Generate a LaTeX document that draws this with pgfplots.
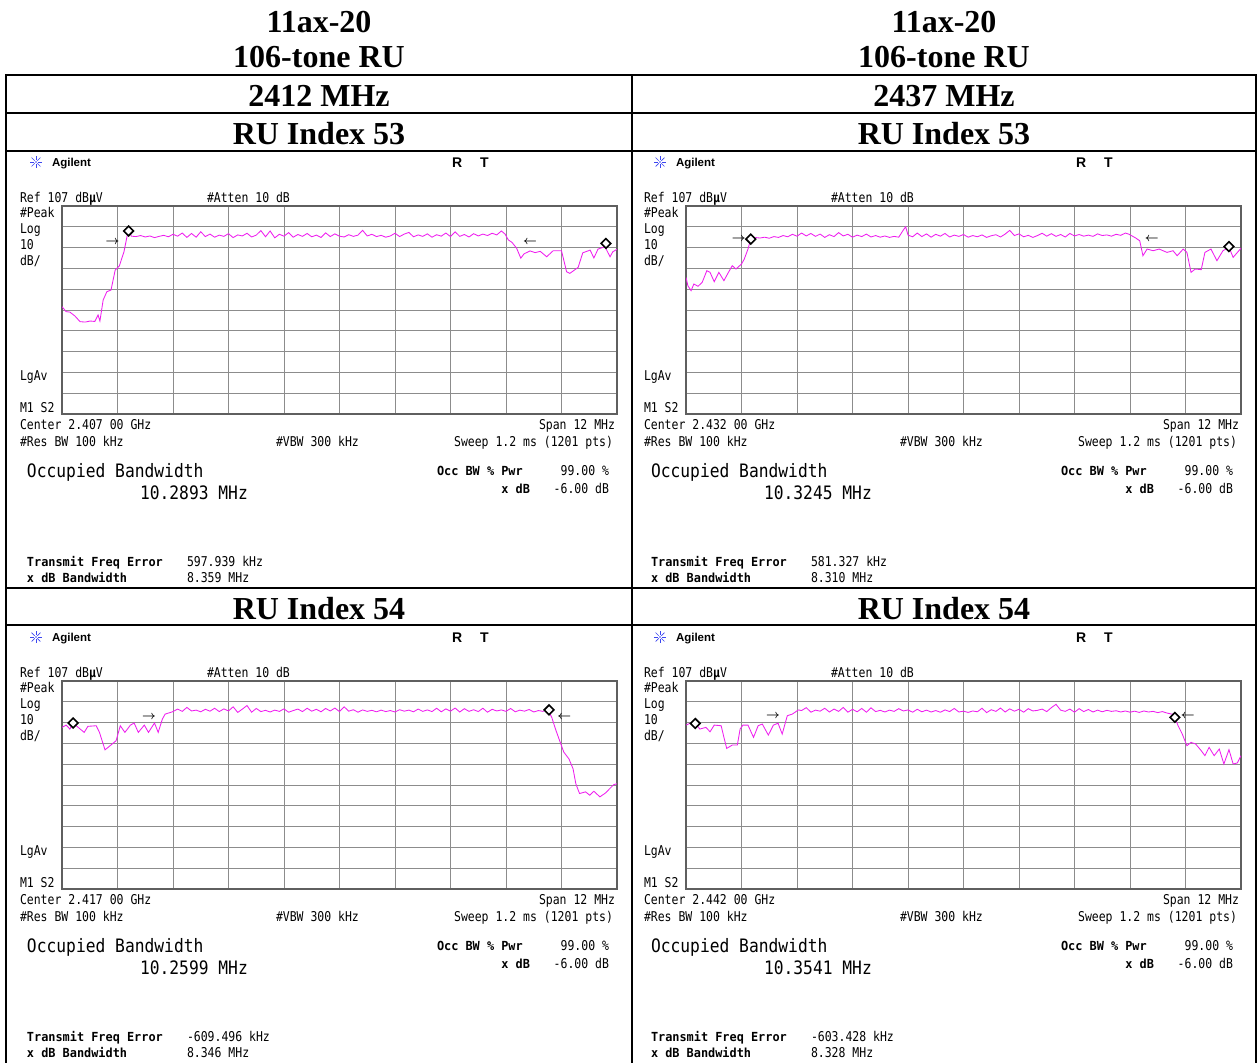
\documentclass[border=0pt]{standalone}
\usepackage{pgfplots}
\pgfplotsset{compat=1.18}
\usepackage{fontspec}
\setmainfont{Liberation Serif}
\newfontfamily\agS[FakeStretch=0.85]{DejaVu Sans Mono}
\newfontfamily\agL[FakeStretch=0.88]{DejaVu Sans Mono}
\newfontfamily\agB[FakeStretch=0.95]{DejaVu Sans Mono}
\newfontfamily\arial{Liberation Sans}
\definecolor{mag}{RGB}{238,30,238}
\definecolor{agblue}{RGB}{60,70,240}
\definecolor{gridc}{RGB}{140,140,140}
\definecolor{framec}{RGB}{95,95,95}
\newcommand{\fS}{\agS\fontsize{13.5}{14}\selectfont}
\newcommand{\fL}{\agL\fontsize{18.5}{20}\selectfont}
\newcommand{\fB}{\agB\bfseries\fontsize{12.5}{14}\selectfont}
\newcommand{\fT}{\bfseries\fontsize{32}{34}\selectfont}
\newcommand{\tl}[3]{\node[anchor=base west,inner sep=0pt,outer sep=0pt] at (#1,#2) {#3};}
\newcommand{\tr}[3]{\node[anchor=base east,inner sep=0pt,outer sep=0pt] at (#1,#2) {#3};}
\newcommand{\tc}[3]{\node[anchor=base,inner sep=0pt,outer sep=0pt] at (#1,#2) {#3};}
% #1 xoff, #2 yoff, #3 center, #4 occupied BW, #5 freq error, #6 x dB BW
\newcommand{\screen}[6]{%
\begin{scope}[shift={(#1,#2)}]
\foreach \a in {0,45,...,315}{\draw[agblue,line width=0.7pt] (36,162) ++(\a:1.8) -- ++(\a:4.4);}
\fill[agblue] (36,162) circle (0.9);
\tl{52}{166}{\arial\bfseries\fontsize{11.5}{12}\selectfont Agilent}
\tl{452}{167}{\arial\bfseries\fontsize{14}{14}\selectfont R}
\tl{480}{167}{\arial\bfseries\fontsize{14}{14}\selectfont T}
\tl{20}{202}{\fS Ref 107 dB\textbf{µ}V}
\tl{207}{202}{\fS \#Atten 10 dB}
\tl{20}{217}{\fS \#Peak}
\tl{20}{233}{\fS Log}
\tl{20}{249}{\fS 10}
\tl{20}{265}{\fS dB/}
\tl{20}{380}{\fS LgAv}
\tl{20}{412}{\fS M1 S2}
\tl{20}{429}{\fS Center #3 00 GHz}
\tr{615}{429}{\fS Span 12 MHz}
\tl{20}{446}{\fS \#Res BW 100 kHz}
\tl{276}{446}{\fS \#VBW 300 kHz}
\tr{613}{446}{\fS Sweep 1.2 ms (1201 pts)}
\tl{27}{477}{\fL Occupied Bandwidth}
\tl{140}{499}{\fL #4 MHz}
\tl{437}{475}{\fB Occ BW \% Pwr}
\tr{530}{493}{\fB x dB}
\tr{609}{475}{\fS 99.00 \%}
\tr{609}{493}{\fS -6.00 dB}
\tl{27}{566}{\fB Transmit Freq Error}
\tl{27}{582}{\fB x dB Bandwidth}
\tl{187}{566}{\fS #5 kHz}
\tl{187}{582}{\fS #6 MHz}
\end{scope}}
\tikzset{ar/.style={font=\fontsize{12}{12}\selectfont\boldmath, inner sep=0pt}}
\newcommand{\ra}{$\rightarrow$}
\newcommand{\la}{$\leftarrow$}
\pgfplotsset{scr/.style={scale only axis, width=555pt, height=208pt,
  xmin=-6, xmax=6, ymin=7, ymax=107,
  axis line style={draw=framec, line width=1.6pt},
  xtick={-4.8,-3.6,-2.4,-1.2,0,1.2,2.4,3.6,4.8},
  ytick={17,27,37,47,57,67,77,87,97},
  xticklabels={}, yticklabels={}, major tick length=0pt,
  grid=major, grid style={draw=gridc, line width=0.9pt},
  anchor=north west, clip=true},
  trc/.style={draw=mag, line width=0.85pt, no markers},
  mk/.style={only marks, mark=square*, mark size=3.4pt,
    mark options={rotate=45, fill=white, draw=black, line width=1.6pt}}}
\begin{document}
\begin{tikzpicture}
\begin{scope}[x=1pt,y=-1pt]
\path[use as bounding box] (0,0) rectangle (1259,1063);
% titles
\tc{319}{32}{\fT 11ax-20}
\tc{319}{67}{\fT 106-tone RU}
\tc{944}{32}{\fT 11ax-20}
\tc{944}{67}{\fT 106-tone RU}
\tc{319}{106}{\fT 2412 MHz}
\tc{944}{106}{\fT 2437 MHz}
\tc{319}{144}{\fT RU Index 53}
\tc{944}{144}{\fT RU Index 53}
\tc{319}{619}{\fT RU Index 54}
\tc{944}{619}{\fT RU Index 54}
% table lines
\draw[line width=2pt] (6,75) -- (1256,75);
\draw[line width=2pt] (6,113) -- (1256,113);
\draw[line width=2pt] (6,151) -- (1256,151);
\draw[line width=2pt] (6,588) -- (1256,588);
\draw[line width=2pt] (6,625) -- (1256,625);
\draw[line width=2pt] (6,74) -- (6,1063);
\draw[line width=2pt] (632,74) -- (632,1063);
\draw[line width=2pt] (1256,74) -- (1256,1063);
% screens
\screen{0}{0}{2.407}{10.2893}{597.939}{8.359}
\screen{624}{0}{2.432}{10.3245}{581.327}{8.310}
\screen{0}{475}{2.417}{10.2599}{-609.496}{8.346}
\screen{624}{475}{2.442}{10.3541}{-603.428}{8.328}
\end{scope}

% panel 1: 2412 MHz, RU 53
\begin{axis}[scr, at={(62pt,-206pt)}]
\addplot[trc] coordinates {(-6.00,58.6)(-5.91,56.2)(-5.83,56.0)(-5.72,54.1)(-5.61,51.4)(-5.50,51.2)(-5.39,51.7)(-5.29,51.5)(-5.22,54.6)(-5.18,51.7)(-5.11,61.8)(-5.03,65.8)(-4.94,66.6)(-4.85,76.2)(-4.76,78.2)(-4.66,85.0)(-4.58,93.9)(-4.53,94.2)(-4.5,92.5)
(-4.4,92.3)(-4.3,92.8)(-4.2,92.1)(-4.1,92.6)(-4.0,91.8)(-3.9,92.4)(-3.8,92.9)(-3.7,92.2)(-3.6,93.4)(-3.5,92.5)(-3.4,94.0)(-3.3,91.9)(-3.2,93.8)(-3.1,92.0)(-3.0,94.6)(-2.9,92.3)(-2.8,93.5)(-2.7,92.0)(-2.6,93.0)(-2.5,92.4)(-2.4,93.7)(-2.3,91.8)(-2.2,93.1)(-2.1,92.6)(-2.0,93.9)(-1.9,92.1)(-1.8,93.0)(-1.7,95.2)(-1.6,92.2)(-1.5,95.0)(-1.4,91.7)(-1.3,93.4)(-1.2,92.5)(-1.1,94.2)(-1.0,92.0)(-0.9,93.3)(-0.8,92.4)(-0.7,93.8)(-0.6,92.2)(-0.5,93.0)(-0.4,91.9)(-0.3,94.1)(-0.2,92.3)(-0.1,93.6)(0.0,92.5)(0.1,92.1)(0.2,93.2)(0.3,92.4)(0.4,93.0)(0.5,95.3)(0.6,92.6)(0.7,93.4)(0.8,92.3)(0.9,92.9)(1.0,92.0)(1.1,92.6)(1.2,93.9)(1.3,92.3)(1.4,93.5)(1.5,94.3)(1.6,92.2)(1.7,93.1)(1.8,92.4)(1.9,93.6)(2.0,92.0)(2.1,93.2)(2.2,92.5)(2.3,94.0)(2.4,92.3)(2.5,94.6)(2.6,92.4)(2.7,93.3)(2.8,92.1)(2.9,93.7)(3.0,92.6)(3.1,93.5)(3.2,92.8)(3.3,93.9)(3.4,93.1)(3.5,95.0)
(3.58,93.5)(3.65,90.7)(3.73,89.5)(3.83,86.7)(3.92,81.9)(3.99,84.0)(4.12,85.4)(4.23,84.6)(4.34,85.2)(4.48,82.6)(4.62,85.5)(4.80,85.5)(4.91,75.4)(4.98,74.6)(5.16,77.5)(5.26,84.5)(5.42,85.8)(5.50,82.0)(5.59,86.3)(5.74,87.4)(5.85,82.6)(5.91,85.0)(6.00,86.2)};
\addplot[mk] coordinates {(-4.56,95.0) (5.76,89.0)};
\node[ar] at (axis cs:-4.91,89.8) {\ra};
\node[ar] at (axis cs:4.12,89.8) {\la};
\end{axis}

% panel 2: 2437 MHz, RU 53
\begin{axis}[scr, at={(686pt,-206pt)}]
\addplot[trc] coordinates {(-6.00,72.7)(-5.96,68.7)(-5.89,66.3)(-5.83,69.5)(-5.74,68.4)(-5.65,70.3)(-5.55,75.9)(-5.48,75.1)(-5.39,70.6)(-5.29,75.1)(-5.18,71.1)(-5.09,74.8)(-5.00,78.3)(-4.92,76.7)(-4.80,79.1)(-4.74,81.5)(-4.66,86.3)(-4.60,91.1)(-4.48,91.8)
(-4.4,91.6)(-4.3,92.0)(-4.2,91.5)(-4.1,92.3)(-4.0,91.9)(-3.9,92.8)(-3.8,92.2)(-3.7,93.4)(-3.6,92.5)(-3.5,94.0)(-3.4,92.6)(-3.3,93.8)(-3.2,92.4)(-3.1,93.5)(-3.0,91.9)(-2.9,93.2)(-2.8,92.3)(-2.7,94.2)(-2.6,92.6)(-2.5,93.4)(-2.4,92.0)(-2.3,93.0)(-2.2,92.3)(-2.1,93.5)(-2.0,92.1)(-1.9,92.8)(-1.8,92.0)(-1.7,92.6)(-1.6,91.9)(-1.5,92.4)(-1.4,92.0)(-1.3,95.5)(-1.25,97.0)(-1.2,93.0)(-1.1,92.2)(-1.0,94.0)(-0.9,92.3)(-0.8,93.6)(-0.7,92.0)(-0.6,93.4)(-0.5,92.5)(-0.4,93.8)(-0.3,92.1)(-0.2,93.0)(-0.1,92.4)(0.0,93.3)(0.1,92.0)(0.2,92.8)(0.3,92.2)(0.4,93.1)(0.5,91.9)(0.6,92.7)(0.7,93.2)(0.8,92.1)(0.9,93.5)(1.0,95.3)(1.1,92.8)(1.2,93.6)(1.3,92.2)(1.4,92.9)(1.5,91.9)(1.6,92.8)(1.7,93.9)(1.8,92.5)(1.9,93.7)(2.0,92.4)(2.1,93.3)(2.2,92.1)(2.3,93.8)(2.4,92.6)(2.5,93.3)(2.6,92.5)(2.7,93.0)(2.8,92.4)(2.9,93.6)(3.0,92.8)(3.1,93.1)(3.2,92.5)(3.3,93.4)(3.4,92.9)(3.5,94.0)
(3.58,93.4)(3.71,91.8)(3.81,90.3)(3.88,83.1)(3.97,86.3)(4.10,85.5)(4.23,86.3)(4.40,84.7)(4.53,85.5)(4.62,83.1)(4.75,86.3)(4.83,84.7)(4.92,75.1)(5.01,76.7)(5.14,76.4)(5.22,84.7)(5.35,86.3)(5.48,80.7)(5.61,85.5)(5.74,87.1)(5.83,82.3)(6.00,86.7)};
\addplot[mk] coordinates {(-4.60,91.1) (5.74,87.5)};
\node[ar] at (axis cs:-4.86,91.1) {\ra};
\node[ar] at (axis cs:4.07,91.1) {\la};
\end{axis}

% panel 3: 2412 MHz, RU 54
\begin{axis}[scr, at={(62pt,-681pt)}]
\addplot[trc] coordinates {(-6.00,84.7)(-5.91,85.8)(-5.83,83.9)(-5.76,86.8)(-5.65,84.7)(-5.52,82.3)(-5.44,85.2)(-5.26,85.5)(-5.19,82.3)(-5.07,73.9)(-4.96,75.9)(-4.83,78.3)(-4.74,85.5)(-4.64,82.3)(-4.52,85.8)(-4.44,86.8)(-4.35,82.3)(-4.22,85.8)(-4.13,82.3)(-4.00,86.8)(-3.92,82.3)(-3.83,88.7)(-3.77,91.1)(-3.61,92.2)
(-3.5,93.5)(-3.4,92.4)(-3.3,94.3)(-3.2,92.6)(-3.1,93.0)(-3.0,92.2)(-2.9,93.4)(-2.8,92.5)(-2.7,93.9)(-2.6,92.3)(-2.5,93.6)(-2.4,92.6)(-2.3,94.6)(-2.2,91.9)(-2.1,93.5)(-2.0,95.2)(-1.9,92.0)(-1.8,93.8)(-1.7,92.3)(-1.6,92.9)(-1.5,92.1)(-1.4,93.0)(-1.3,92.4)(-1.2,93.6)(-1.1,92.0)(-1.0,92.8)(-0.9,93.5)(-0.8,92.3)(-0.7,93.9)(-0.6,92.5)(-0.5,93.4)(-0.4,92.2)(-0.3,93.8)(-0.2,92.6)(-0.1,94.0)(0.0,92.3)(0.1,94.6)(0.2,92.5)(0.3,93.2)(0.4,92.0)(0.5,93.1)(0.6,92.4)(0.7,92.9)(0.8,92.2)(0.9,93.0)(1.0,92.3)(1.1,92.8)(1.2,92.1)(1.3,93.2)(1.4,92.5)(1.5,93.0)(1.6,92.2)(1.7,93.5)(1.8,92.4)(1.9,93.1)(2.0,92.3)(2.1,93.9)(2.2,92.2)(2.3,93.6)(2.4,92.5)(2.5,94.0)(2.6,92.1)(2.7,93.7)(2.8,92.4)(2.9,93.2)(3.0,92.3)(3.1,93.9)(3.2,92.0)(3.3,93.4)(3.4,92.6)(3.5,93.1)(3.6,92.4)(3.7,93.8)(3.8,92.2)(3.9,93.0)(4.0,92.5)(4.1,93.3)(4.2,92.1)(4.3,92.8)(4.4,92.4)(4.5,93.5)
(4.59,89.5)(4.67,83.9)(4.76,78.3)(4.85,72.8)(4.96,69.6)(5.05,64.8)(5.11,57.6)(5.19,52.9)(5.32,53.7)(5.41,52.1)(5.50,54.0)(5.63,51.3)(5.76,53.3)(5.84,55.2)(5.93,57.2)(6.00,57.6)};
\addplot[mk] coordinates {(-5.76,86.8) (4.53,93.1)};
\node[ar] at (axis cs:-4.12,89.5) {\ra};
\node[ar] at (axis cs:4.86,89.5) {\la};
\end{axis}

% panel 4: 2437 MHz, RU 54
\begin{axis}[scr, at={(686pt,-681pt)}]
\addplot[trc] coordinates {(-6.00,85.8)(-5.91,86.7)(-5.80,86.6)(-5.70,83.9)(-5.57,84.7)(-5.48,82.6)(-5.39,85.8)(-5.24,85.5)(-5.18,79.9)(-5.12,74.6)(-5.00,76.2)(-4.89,76.2)(-4.83,83.9)(-4.77,85.8)(-4.66,85.8)(-4.54,79.9)(-4.44,85.5)(-4.35,86.3)(-4.22,81.0)(-4.11,85.8)(-4.01,86.7)(-3.92,81.5)(-3.81,90.3)(-3.70,91.1)(-3.57,93.1)
(-3.5,92.8)(-3.4,94.2)(-3.3,92.0)(-3.2,93.0)(-3.1,92.5)(-3.0,93.9)(-2.9,92.1)(-2.8,93.5)(-2.7,92.4)(-2.6,94.3)(-2.5,92.0)(-2.4,93.4)(-2.3,92.2)(-2.2,93.8)(-2.1,92.0)(-2.0,94.1)(-1.9,92.3)(-1.8,92.9)(-1.7,92.1)(-1.6,93.0)(-1.5,92.4)(-1.4,93.7)(-1.3,92.6)(-1.2,93.1)(-1.1,92.0)(-1.0,93.4)(-0.9,92.2)(-0.8,93.0)(-0.7,92.1)(-0.6,92.8)(-0.5,92.0)(-0.4,93.1)(-0.3,92.3)(-0.2,93.8)(-0.1,92.1)(0.0,92.5)(0.1,91.9)(0.2,92.6)(0.3,92.2)(0.4,93.9)(0.5,91.8)(0.6,93.2)(0.7,92.4)(0.8,94.0)(0.9,92.1)(1.0,93.6)(1.1,92.5)(1.2,93.4)(1.3,92.0)(1.4,93.7)(1.5,92.6)(1.6,92.9)(1.7,93.5)(1.8,92.3)(1.9,94.2)(2.0,95.8)(2.1,93.0)(2.2,92.4)(2.3,93.5)(2.4,92.0)(2.5,93.7)(2.6,92.3)(2.7,93.3)(2.8,92.1)(2.9,93.0)(3.0,92.2)(3.1,92.9)(3.2,92.4)(3.3,92.7)(3.4,92.1)(3.5,92.6)(3.6,92.0)(3.7,92.5)(3.8,91.9)(3.9,92.6)(4.0,92.1)(4.1,92.4)(4.2,91.8)(4.3,92.3)(4.4,91.6)(4.5,91.1)
(4.53,91.1)(4.57,89.5)(4.64,85.5)(4.73,81.5)(4.83,75.9)(4.92,77.5)(5.02,76.7)(5.14,73.5)(5.22,71.1)(5.31,75.1)(5.42,71.1)(5.53,74.3)(5.63,67.1)(5.74,74.0)(5.83,67.1)(5.92,67.6)(6.00,71.1)};
\addplot[mk] coordinates {(-5.80,86.6) (4.57,89.5)};
\node[ar] at (axis cs:-4.12,90.3) {\ra};
\node[ar] at (axis cs:4.85,90.0) {\la};
\end{axis}
\end{tikzpicture}
\end{document}
